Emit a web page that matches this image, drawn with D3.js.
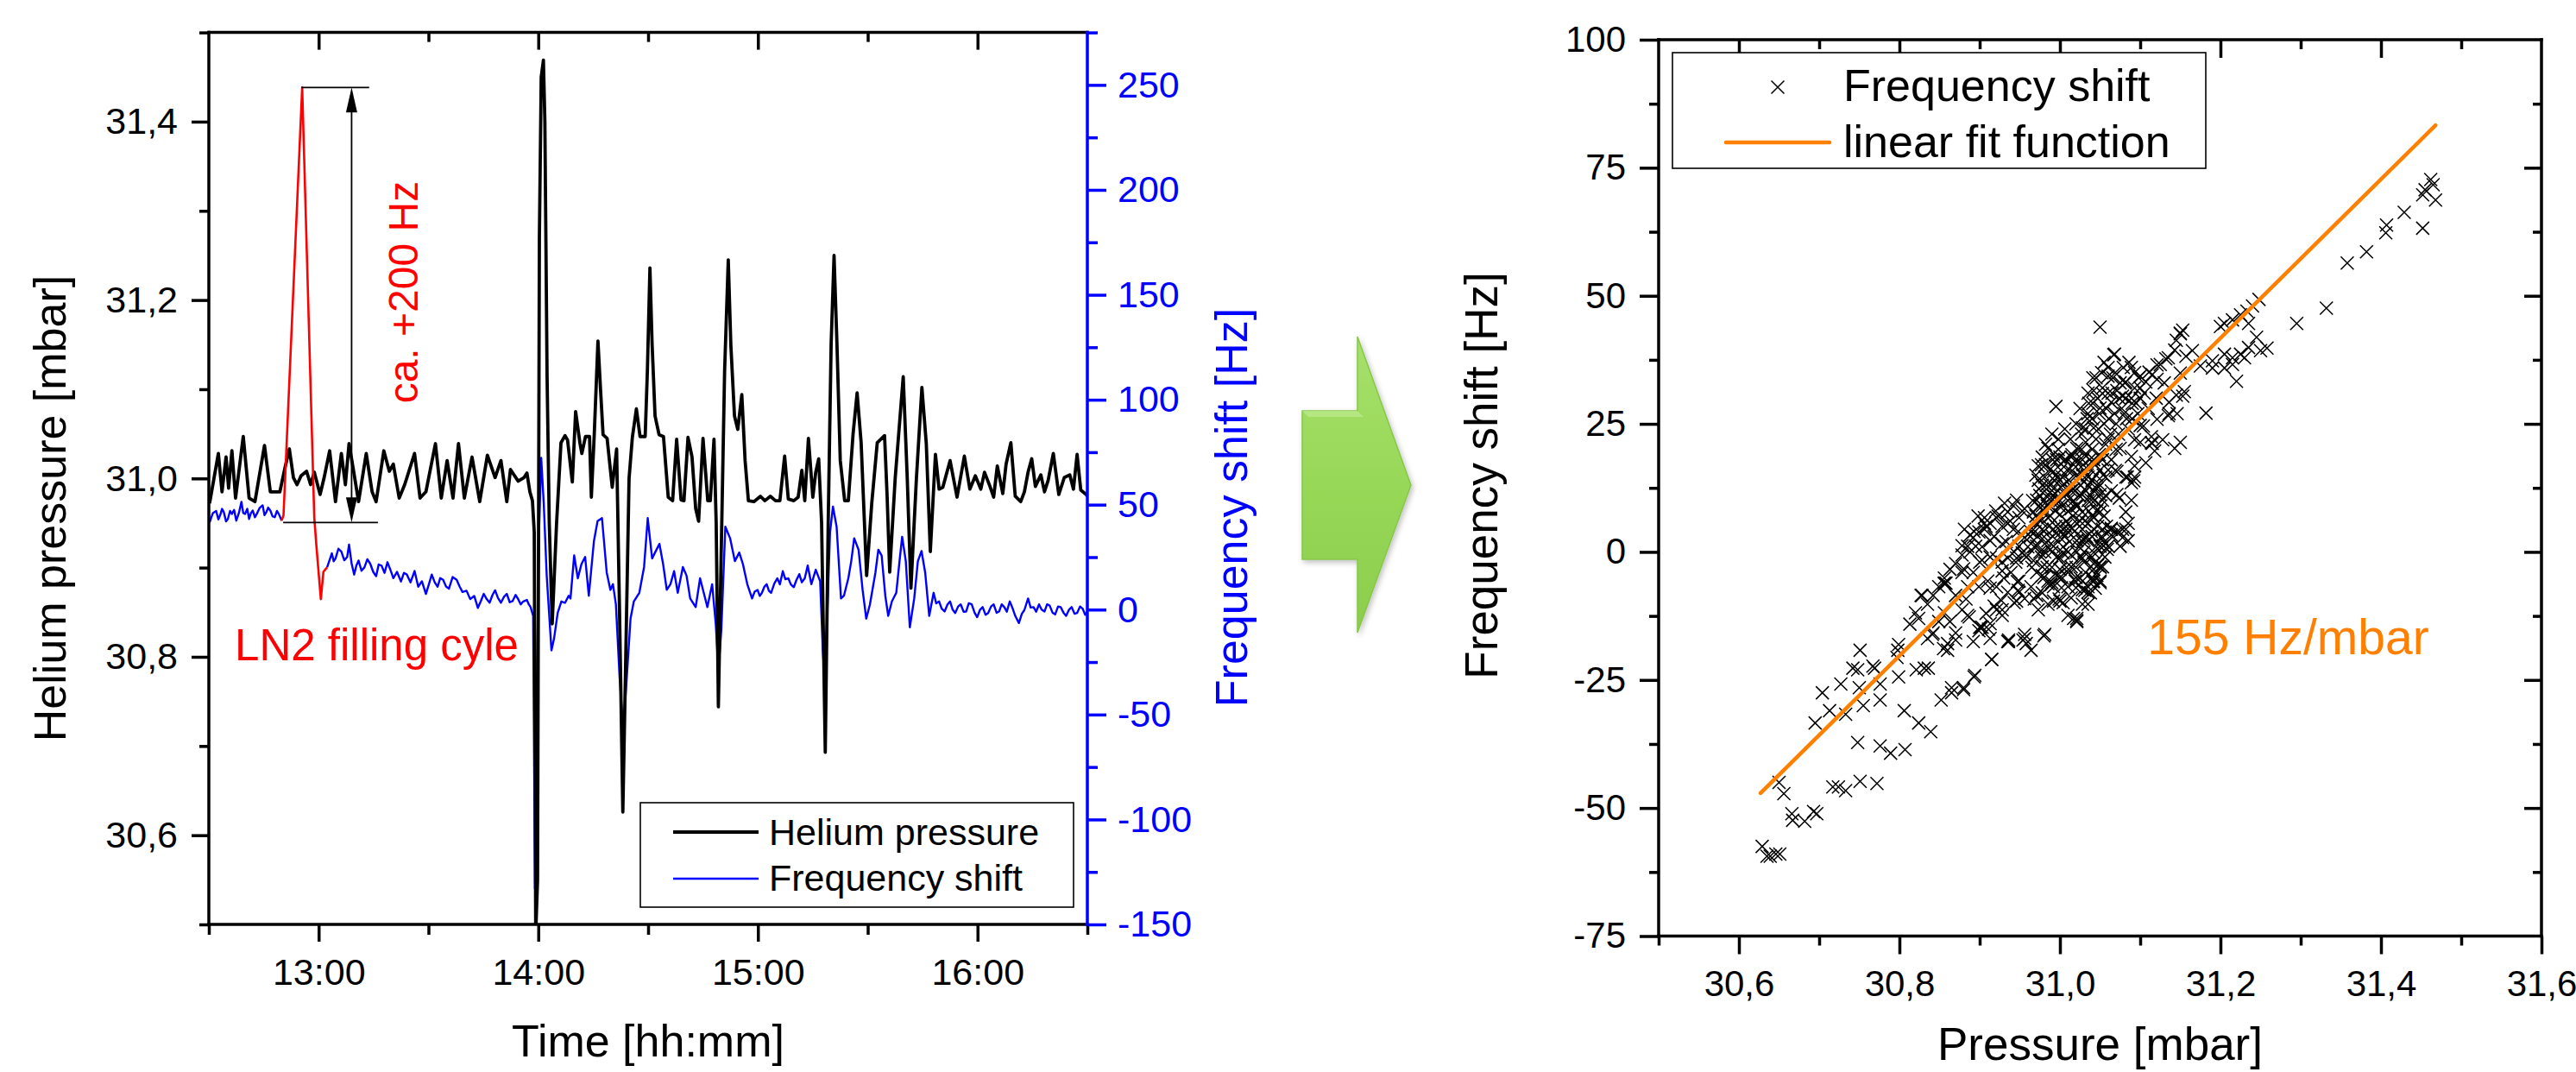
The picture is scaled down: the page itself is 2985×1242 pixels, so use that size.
<!DOCTYPE html>
<html>
<head>
<meta charset="utf-8">
<script src="https://cdn.jsdelivr.net/npm/d3@7"></script>
<style>
  body { margin: 0; background: #fff; }
  text { font-family: "Liberation Sans", Arial, sans-serif; }
</style>
</head>
<body>
<div id="container"></div>
<script>
const width = 2985;
const height = 1242;
const FONT = '"Liberation Sans", Arial, sans-serif';

// ---- data: time in minutes after 12:00 ----
const heliumPressure = [
  [30.2,30.972],[32.6,31.028],[33.6,30.985],[34.7,31.024],[35.4,30.989],[36.3,31.031],[37.3,30.978],[39.4,31.047],
  [41.0,30.978],[42.6,30.974],[45.2,31.037],[46.8,30.985],[49.4,30.985],[50.8,31.012],[52.0,31.033],[53.1,31.001],
  [54.1,30.993],[55.2,31.003],[56.7,31.008],[57.8,30.993],[58.8,31.007],[60.4,30.982],[61.5,31.001],[63.0,31.031],
  [64.6,30.974],[66.2,31.028],[67.3,30.993],[68.3,31.039],[69.4,31.012],[70.9,30.974],[73.0,31.028],[74.6,30.985],
  [75.7,30.974],[77.8,31.031],[79.3,31.008],[80.4,31.016],[82.0,30.978],[83.5,30.993],[86.2,31.028],[87.7,30.978],
  [89.3,30.985],[91.9,31.039],[93.5,30.978],[95.1,31.020],[96.7,30.978],[98.2,31.039],[99.8,30.978],[101.9,31.024],
  [104.0,30.974],[106.1,31.026],[108.2,31.001],[109.8,31.020],[111.4,30.974],[112.4,31.010],[114.5,30.997],[116.1,31.001],
  [116.9,31.006],[117.7,30.985],[118.4,30.975],[118.9,30.94],[119.3,30.49],[119.8,30.55],[120.3,31.27],[120.8,31.45],
  [121.4,31.469],[121.8,31.40],[122.4,31.115],[123.0,30.95],[123.8,30.837],[125.0,30.95],[126.2,31.04],[127.3,31.048],
  [128.0,31.043],[129.3,30.996],[130.2,31.075],[131.4,31.039],[131.9,31.028],[132.9,31.047],[134.0,31.047],[134.5,30.979],
  [135.3,31.05],[136.3,31.154],[137.0,31.10],[137.7,31.049],[138.8,31.045],[140.2,30.99],[141.4,31.033],[142.2,30.85],
  [143.1,30.626],[143.9,30.8],[144.8,31.0],[145.7,31.046],[146.8,31.078],[147.8,31.047],[149.2,31.047],[149.8,31.12],
  [150.5,31.236],[151.1,31.15],[151.9,31.07],[153.0,31.049],[154.2,31.047],[155.5,30.979],[156.7,30.975],[157.8,31.044],
  [159.0,30.976],[159.8,30.975],[160.9,31.046],[162.0,31.024],[163.0,30.966],[163.8,30.952],[165.0,31.045],[166.3,30.975],
  [167.0,30.975],[168.0,31.044],[168.6,30.95],[169.2,30.744],[169.9,30.9],[170.9,31.12],[171.9,31.245],[172.6,31.15],
  [173.6,31.07],[174.5,31.055],[175.6,31.094],[176.5,31.02],[177.4,30.975],[178.9,30.974],[180.7,30.980],[181.9,30.975],
  [183.4,30.980],[184.8,30.975],[186.0,30.975],[187.3,31.025],[188.3,30.977],[189.8,30.975],[191.0,30.979],[192.0,31.009],
  [192.8,30.975],[193.8,31.045],[195.0,30.979],[195.8,31.007],[196.6,31.022],[197.4,30.95],[198.4,30.693],[199.2,30.95],
  [200.0,31.15],[200.8,31.250],[201.6,31.15],[202.5,31.02],[203.7,30.975],[204.7,30.975],[206.0,31.05],[207.1,31.096],
  [208.2,31.04],[209.7,30.891],[211.1,30.972],[212.6,31.040],[214.6,31.048],[215.3,30.98],[216.0,30.895],[217.5,31.0],
  [219.7,31.114],[220.8,31.0],[221.8,30.877],[223.3,31.0],[224.8,31.102],[226.0,31.039],[227.1,30.918],[228.5,31.027],
  [229.5,30.988],[230.5,30.990],[232.5,31.020],[234.4,30.979],[236.4,31.025],[237.9,30.988],[239.4,31.003],[240.9,30.988],
  [241.9,31.007],[243.4,30.991],[244.4,30.979],[245.4,31.014],[246.9,30.983],[247.8,31.016],[249.1,31.040],[250.3,30.980],
  [251.8,30.974],[252.8,30.985],[253.8,31.007],[254.8,31.022],[255.8,30.991],[257.3,31.004],[258.3,30.985],[259.3,30.998],
  [260.7,31.028],[262.2,30.982],[263.7,31.001],[265.2,31.004],[266.2,30.988],[267.2,31.027],[268.2,30.987],[269.7,30.982],
  [270,30.980]
];

const frequencyShift = [
  [30.2,41.5],[31.1,46],[32.0,47],[32.6,43],[33.1,45],[33.6,48],[34.1,46.4],[34.7,42],[35.2,43.2],[35.8,47],[36.3,45.6],
  [36.9,47.5],[37.5,42.4],[38.2,46],[38.9,51.3],[39.4,46],[39.9,45.6],[40.5,48],[41.0,43.2],[41.5,46],[42.0,47.2],
  [42.6,44],[43.1,45.6],[43.9,48.5],[44.7,49.7],[45.2,45],[45.7,46.4],[46.2,48.6],[46.8,47.2],[47.4,44.5],[48.0,44],
  [48.6,47],[49.1,45.6],[49.9,42.4],
  [50.4,45],[55.5,248.8],[58.8,44],[59.4,30],[60.6,5],[61.3,18],[62.3,20.1],
  [63.6,26.8],[64.1,23],[64.6,24.3],[65.4,29],[66.2,27.6],[67.0,23.5],[67.8,25.1],[68.3,31],[69.0,22],[69.7,16.7],
  [70.3,21],[70.9,23.4],[71.7,18.5],[72.5,20.1],[73.3,24],[74.1,21.8],[74.9,18],[75.7,15.9],[76.4,21.5],[77.2,20.9],
  [78.0,17.5],[78.8,22.6],[79.6,19],[80.4,15.0],[81.4,18],[82.5,13.4],[83.3,17.5],[84.1,16.7],[85.1,13],[86.2,18.4],
  [87.2,10.9],[88.2,13.5],[89.3,7.5],[90.1,12],[90.9,16.7],[91.7,13],[92.5,10.9],[93.2,15],[94.0,14.2],[94.8,11],
  [95.6,10.0],[96.6,15.5],[97.7,14.2],[98.5,11],[99.3,8.4],[100.4,9],[101.4,5.0],[102.5,6.5],[103.5,0.8],[104.3,4],
  [105.1,7.5],[105.9,5],[106.7,3.3],[107.5,7],[108.2,9.2],[109.0,5.5],[109.8,3.3],[110.6,6],[111.4,7.5],[112.2,3.5],
  [113.0,4.1],[113.8,7],[114.5,5.0],[115.2,2.5],[115.9,3.9],[116.9,4.6],[117.4,2.5],[117.9,1.2],[118.6,-3.0],[119.1,-133],[119.6,-40],
  [120.2,36.8],[120.8,72.3],[121.5,50.4],[122.3,16.2],[123.6,-19.4],[124.3,-13.9],[125.3,-1.6],[126.3,3.9],[127.3,3.2],
  [128.3,6.6],[128.8,5.3],[129.8,25.8],[130.8,14.9],[131.8,21.7],[132.8,25.1],[133.8,6.6],[135.2,32.6],[136.2,42.2],
  [137.4,43.6],[138.7,17.6],[139.7,9.4],[140.4,12.1],[141.2,2.5],[142.2,-31.7],[143.2,-57],[144.2,-31.7],[145.2,-4.3],
  [146.1,3.9],[147.6,8.0],[148.9,20.3],[149.9,43.6],[151.1,24.4],[151.9,27.2],[153.1,31.3],[154.1,21.7],[155.1,9.4],
  [156.1,12.1],[157.1,18.3],[158.1,8.0],[159.5,20.3],[160.5,16.2],[161.5,5.3],[163.0,1.2],[164.2,14.9],[165.2,8.0],
  [166.2,1.2],[167.5,12.1],[168.5,-7.1],[169.2,-29.0],[170.0,-9.8],[171.1,39.5],[172.4,34.0],[173.7,23.1],[174.9,27.2],
  [175.9,21.7],[177.1,12.1],[178.4,5.3],[179.1,8.5],[179.9,9.4],[180.5,6.5],[181.1,8.0],[181.8,11],[182.4,12.1],[183.0,9],
  [183.6,8.0],[184.5,12.5],[185.3,14.9],[186.0,12],[186.8,18.3],[187.5,14.5],[188.3,14.9],[189.0,12],[189.8,10.7],
  [190.5,14],[191.3,16.9],[192.0,13],[192.8,14.9],[193.6,21.0],[194.6,12.1],[195.8,19.0],[197.0,13.5],[197.7,-18.0],
  [198.2,-33.1],[198.9,-4.3],[199.7,36.8],[200.5,49.1],[201.5,39.5],[202.7,5.3],[203.5,6.6],[204.7,14.9],[205.5,23.1],
  [206.3,34.0],[207.5,28.5],[208.6,9.4],[209.6,-4.3],[210.6,2.5],[212.1,17.6],[212.9,28.5],[213.8,25.8],[214.8,6.6],
  [215.6,-3.0],[216.6,3.9],[217.8,8.0],[218.6,21.7],[219.4,34.7],[220.4,23.1],[221.5,-8.4],[222.7,5.3],[223.7,23.1],
  [224.7,27.9],[225.7,17.6],[226.8,-3.0],[228.0,8.0],[228.7,3],[229.5,3.9],[230.2,0.5],[231.0,-0.9],[231.8,2.5],
  [232.5,3.9],[233.2,0],[233.9,-1.6],[234.7,1.5],[235.4,2.5],[236.2,-1],[236.9,-0.9],[237.6,3],[238.4,2.5],[239.2,-1.5],
  [239.9,-3.6],[240.7,0],[241.4,1.2],[242.2,-2.5],[242.9,-1.6],[243.7,1.5],[244.4,2.5],[245.2,-1.5],[245.9,-0.9],
  [246.6,2.5],[247.3,1.2],[248.0,-1],[248.8,3.9],[249.6,0.5],[250.3,-3.0],[251.3,-6.4],[252.1,-2],[252.8,-0.2],
  [253.8,5.3],[254.5,1],[255.3,1.2],[256.0,-1],[256.8,2.5],[257.5,0],[258.3,-0.9],[259.0,2.5],[259.7,1.9],[260.5,-1.5],
  [261.2,-2.3],[262.0,1.5],[262.7,1.2],[263.5,-1.5],[264.2,-3.0],[265.0,0],[265.7,1.2],[266.5,-2],[267.2,-1.6],
  [268.0,1.5],[268.7,0.5],[269.4,-2.5],[270,-0.9]
];

// part of the frequency trace drawn in red (LN2 filling)
const ln2Window = [49.9, 62.3];

// scatter: [pressure mbar, frequency shift Hz]
const scatterPoints = [
  [30.629,-57.5],[30.635,-59.4],[30.639,-59.4],[30.646,-59.0],[30.651,-59.0],[30.650,-45.0],[30.656,-47.2],[30.666,-51.1],
  [30.667,-52.4],[30.682,-52.6],[30.693,-50.7],[30.697,-51.1],[30.695,-33.4],[30.704,-27.5],[30.713,-31.0],[30.717,-45.9],
  [30.724,-45.9],[30.727,-25.8],[30.733,-46.6],[30.733,-31.7],[30.742,-22.7],[30.748,-23.0],[30.748,-37.2],[30.751,-44.8],
  [30.751,-19.2],[30.750,-26.5],[30.755,-30.0],[30.767,-22.3],[30.769,-22.7],[30.772,-45.2],[30.776,-25.8],[30.776,-28.9],
  [30.776,-37.9],[30.789,-39.3],[30.798,-19.2],[30.799,-24.4],[30.797,-20.6],[30.806,-31.0],[30.807,-38.6],[30.821,-23.0],
  [30.824,-33.4],[30.828,-8.5],[30.831,-22.7],[30.839,-35.1],[30.836,-22.7],[30.841,-16.1],[30.852,-28.9],[30.856,-6.1],
  [30.860,-17.9],[30.865,-27.5],[30.870,-17.2],[30.880,-26.5],[30.880,-3.3],[30.887,-12.7],[30.894,-24.1],[30.901,-14.7],
  [30.899,-15.4],[30.908,-12.0],[30.915,-21.0],[30.911,-15.1],[30.918,-10.6],[30.927,-9.5],[30.936,-17.2],[30.930,-5.1],
  [30.947,-5.8],[30.954,-17.2],
  [30.858,-6.1],[30.855,-18.9],[30.865,-26.5],[30.880,-26.9],[30.893,-24.4],[30.915,-21.0],[30.936,-17.5],[30.956,-16.1],
  [30.981,-16.1],[30.958,-17.9],[31.021,-13.4],[31.004,-9.9],[31.031,-7.5],[31.041,-5.8],[31.047,-2.6],[30.989,-6.4],
  [30.968,-9.2],[30.948,-7.5],[30.928,-11.3],[30.913,-14.0],[30.900,-14.7],[31.074,3.9],[31.059,0.5],[31.052,2.6],
  [30.878,1.2],[30.903,-1.6],[30.928,-3.7],[30.953,-0.2],[30.978,2.6],[31.004,-0.2],[31.029,2.6],[31.054,1.2],[31.064,4.6],
  [30.883,-9.2],[30.913,-7.1],[30.943,-9.9],[30.973,-11.3],[30.999,-9.2],[31.019,-5.7],[31.044,-7.1],
  [31.462,72.7],[31.465,71.7],[31.455,70.7],[31.452,69.7],[31.468,68.7],[31.429,66.3],[31.452,63.2],[31.407,63.8],
  [31.406,62.3],[31.382,58.6],[31.358,56.4],[31.332,47.6],[31.295,44.6],[31.258,39.8],[31.050,43.9],[31.068,38.6],
  [30.995,28.4],[31.220,33.3],[31.182,27.1],[31.248,49.3],[31.240,48.0],[31.233,47.0],[31.225,46.3],[31.215,45.3],
  [31.205,44.6],[31.200,44.0],[31.235,44.6],[31.245,41.9],[31.235,39.9],[31.225,38.6],[31.215,37.9],[31.205,38.6],
  [31.190,37.3],[31.175,36.3],[31.165,39.3],[31.150,42.6],[31.145,41.3],[31.135,37.9],[31.125,36.6],[31.115,34.6],
  [31.155,31.3],[31.145,30.6],[31.135,26.6],[31.115,21.2],[31.104,24.6],[31.089,18.6],[31.084,14.6],[31.092,13.9],
  [31.069,15.9],[31.064,11.9],[31.074,10.5],[31.190,35.9],[31.205,35.9],[31.215,36.6],[31.230,37.9],[31.250,39.3],
  [31.067,38.5],[31.150,42.7],[31.143,39.4],[31.132,37.7],[31.121,36.5],[31.111,35.1],[31.100,34.3],[31.089,36.0],
  [31.082,33.2],[31.071,31.5],[31.060,34.3],[31.053,30.9],[31.042,31.5],[31.050,28.1],[31.064,29.2],[31.078,30.4],
  [31.093,32.0],[31.107,33.2],[31.121,33.7],[31.136,29.2],[31.146,27.0],[31.114,21.3],[31.121,25.9],[31.100,24.7],
  [31.093,21.9],[31.075,20.2],[31.064,18.0],[31.057,14.6],[31.050,11.2],[31.035,27.0],[31.028,24.2],[31.032,21.4],
  [31.042,24.2],[31.042,18.0],[31.035,14.6],[31.028,18.0],[31.021,20.2],[31.014,18.5],[31.007,18.0],[31.000,18.5],
  [30.992,19.1],[30.985,20.2],[30.978,18.5],[30.973,16.8],[30.981,14.6],[30.992,15.7],[31.003,14.6],[31.014,15.7],
  [31.025,14.6],[31.035,12.9],[31.046,12.3],[31.053,10.1],[31.050,7.8],[31.053,4.4],[31.050,1.1],[31.042,-0.1],
  [31.035,2.2],[31.028,4.4],[31.021,5.6],[31.010,3.9],[31.000,2.8],[30.992,1.1],[30.985,2.2],[30.978,4.4],[30.971,5.6],
  [30.967,7.8],[30.971,10.1],[30.974,12.3],[30.985,11.2],[30.996,10.1],[31.007,11.2],[31.017,12.3],[31.028,11.2],
  [31.039,10.1],[31.042,6.7],[31.028,7.8],[31.014,8.4],[31.000,7.3],[30.985,6.7],[30.978,9.0],[30.992,4.4],[31.007,5.0],
  [31.021,2.2],[31.035,5.6],[31.000,-1.2],[31.014,-0.6],[31.028,-1.2],[31.042,-2.3],[31.060,1.1],[31.064,4.4],[31.071,3.9],
  [31.078,4.4],[31.057,1.6],[31.050,-2.9],[31.042,-5.7],[31.035,-7.9],[31.028,-5.7],[31.010,-6.8],[30.996,-4.6],
  [30.992,-9.6],[30.985,-6.2],[30.978,-2.9],[30.971,1.1],[30.964,3.9],[30.956,2.8],[30.949,1.1],[30.942,4.4],[30.935,5.6],
  [30.928,5.0],[30.921,6.7],[30.913,5.6],[30.906,4.4],[30.899,3.9],[30.892,2.8],[30.885,1.1],[30.878,-0.6],[30.870,-2.3],
  [30.863,-3.4],[30.856,-5.1],[30.849,-6.8],[30.842,-8.5],[30.835,-10.2],[30.827,-8.5],[30.820,-11.9],[30.856,-6.2],
  [30.878,-4.0],[30.895,1.1],[30.906,5.6],[30.913,2.2],[30.928,1.6],[30.935,-1.2],[30.946,-1.2],[30.956,-0.6],[30.967,-1.7],
  [30.978,-4.6],[30.985,-5.7],[31.000,-3.4],[31.014,-2.9],[31.025,-5.1],[31.003,-5.1],[30.992,-6.8],[30.964,-6.8],
  [30.949,-5.7],[30.935,-7.9],[30.921,-6.8],[30.910,-5.7],[30.899,-6.8],[30.892,-4.0],[30.885,-6.8],[30.870,-8.5],
  [30.921,-1.2],[30.939,-4.0],[30.949,-7.9],[30.956,-9.1],[30.971,-8.5],[30.985,-10.2],[31.000,-9.6],[31.010,-12.4],
  [31.021,-13.0],[31.035,-6.8],[31.042,-3.4],[31.064,3.3],[31.082,4.4],[31.085,5.6],[31.071,11.2],[31.082,14.6],
  [31.089,13.5],[31.093,16.8],[31.071,15.7],[31.100,21.4],[31.114,22.5],[31.136,27.0],[31.153,30.4],[31.150,34.9],
  [31.157,38.2],[31.153,43.3],[30.885,-12.4],[30.799,-18.1],[30.835,-16.9],[30.842,-15.8],[30.860,-19.2],[30.870,-15.8],
  [30.892,-17.5],[30.903,-14.7],[30.913,-16.9],[30.935,-17.5],[30.956,-16.9],[30.964,-19.2],[30.980,-16.4],[30.921,-11.3],
  [30.928,-12.4],[30.946,-9.6],[30.856,-11.9],[30.863,-13.6],[30.878,-11.3],[30.849,-13.6],[30.824,-13.0],[30.813,-14.1],
  [31.028,-7.4],[31.046,-4.6],[31.053,-2.9],[31.028,-10.2],[31.035,-10.2],[31.021,-13.6],[31.017,-13.0],[31.050,-5.7],
  [31.078,2.8],[30.935,7.8],[30.942,9.0],[30.949,6.7],[30.946,10.1],[30.906,6.7],[30.888,3.3],[30.881,4.4],[30.931,9.5],
  [30.956,8.4],[31.128,21.9],[31.143,20.2],[31.150,21.4],[31.118,19.7],[31.107,17.4],[31.093,14.6],[31.089,10.1],
  [31.082,7.8],[31.075,1.1],[31.085,2.2],
  [30.98,10],[30.99,12],[31.0,14],[31.01,10],[31.02,9],[31.03,16],[31.04,20],[31.045,15],[30.99,0],[31.0,5],[31.01,0],
  [31.02,-3],[31.03,0],[31.04,3],[30.975,0],[30.965,-3],[30.96,1],[31.055,25],[31.06,22],[31.07,25],[31.08,27],[31.09,29],
  [31.1,30],[31.11,28],[31.12,30],[31.13,33],[31.06,36],[31.045,34],[31.035,31],[31.025,28],
  // dense core
  [30.968,1],[30.972,3],[30.976,6],[30.979,8],[30.983,13],[30.987,16],[30.991,3],[30.994,8],[30.997,12],[31.001,16],
  [31.004,1],[31.008,6],[31.011,14],[31.015,19],[31.018,4],[31.022,9],[31.026,13],[31.029,17],[31.033,3],[31.036,8],
  [31.040,14],[31.044,17],[31.047,5],[31.051,9],[31.054,15],[30.970,15],[30.981,0],[30.989,10],[30.996,18],[31.003,9],
  [31.012,2],[31.019,12],[31.027,20],[31.031,6],[31.038,11],[31.045,1],[31.049,19],[30.975,11],[30.986,5],[30.993,14],
  [31.006,18],[31.016,7],[31.024,1],[31.034,15],[31.043,10],[31.052,3],
  [30.969,4],[30.974,9],[30.978,13],[30.982,17],[30.985,1],[30.988,7],[30.992,11],[30.995,15],[30.998,20],[31.002,4],
  [31.005,12],[31.009,16],[31.013,5],[31.017,10],[31.021,15],[31.025,6],[31.028,2],[31.032,12],[31.037,18],[31.041,7],
  [31.046,13],[31.050,16],[31.055,7],[30.977,-1],[31.0,10],[31.02,18],[31.04,-1],
  [31.032,24],[31.036,29],[31.041,34],[31.045,22],[31.049,27],[31.053,32],[31.057,21],[31.061,26],[31.065,31],[31.069,35],
  [31.073,23],[31.077,28],[31.081,33],[31.085,24],[31.089,30],[31.093,35],[31.097,27],[31.100,32],[31.055,37],[31.070,20],
  [31.086,37],[31.040,26],[31.063,23],[31.079,36],[31.095,29],[31.047,30],[31.058,28],[31.066,34],[31.074,30],[31.083,26],
  [30.888,0],[30.893,4],[30.898,7],[30.903,1],[30.908,5],[30.913,-1],[30.918,3],[30.923,7],[30.928,-2],[30.933,2],
  [30.938,6],[30.943,0],[30.948,4],[30.953,8],[30.958,-1],[30.963,3],[30.968,6],[30.900,-2],[30.920,8],[30.945,-2],
  [30.978,-8],[30.984,-3],[30.990,-6],[30.996,-1],[31.002,-7],[31.008,-3],[31.014,-9],[31.020,-5],[31.026,-1],[31.032,-4],
  [31.038,-8],[31.044,-2],[31.050,-6],[31.056,-1],
  [30.966,10],[30.970,7],[30.973,14],[30.977,17],[30.980,4],[30.984,9],[30.988,13],[30.991,18],[30.995,5],[30.999,9],
  [31.003,13],[31.006,3],[31.010,8],[31.014,12],[31.017,17],[31.021,0],[31.024,11],[31.028,15],[31.031,19],[31.035,10],
  [31.039,4],[31.042,12],[31.046,8],[31.050,13],[31.053,18],[31.057,11],[31.060,16],[31.058,5],
  [30.982,21],[30.990,23],[30.998,22],[31.006,24],[31.013,22],[31.020,25],[31.027,23],[31.034,26],[31.041,29],[31.048,24],
  [31.052,35],[31.060,31],[31.068,27],[31.075,33],[31.082,30],[31.090,26],[31.098,34],[31.105,31],
  [30.971,-4],[30.980,-5],[30.990,-3],[31.000,-5],[31.010,-4],[31.020,-7],[31.030,-2],[31.040,-5],[31.050,-3]
];

// linear fit (155 Hz/mbar), end points
const fitLine = [[30.627, -47.1], [31.468, 83.3]];

// ticks
const timeMajor = [60, 120, 180, 240];
const timeMinor = [30, 90, 150, 210, 270];
const pressMajor = [30.6, 30.8, 31.0, 31.2, 31.4];
const pressMinor = [30.5, 30.7, 30.9, 31.1, 31.3, 31.5];
const freqMajor = [-150, -100, -50, 0, 50, 100, 150, 200, 250];
const freqMinor = [-125, -75, -25, 25, 75, 125, 175, 225, 275];
const scatXMajor = [30.6, 30.8, 31.0, 31.2, 31.4, 31.6];
const scatXMinor = [30.5, 30.7, 30.9, 31.1, 31.3, 31.5];
const scatYMajor = [-75, -50, -25, 0, 25, 50, 75, 100];
const scatYMinor = [-62.5, -37.5, -12.5, 12.5, 37.5, 62.5, 87.5];

const comma = d3.formatLocale({ decimal: ',', thousands: '.', grouping: [3], currency: ['', ''], minus: '-' }).format('.1f');
const hhmm = m => (12 + Math.floor(m / 60)) + ':' + String(m % 60).padStart(2, '0');

const svg = d3.select('#container').append('svg')
  .attr('width', width).attr('height', height)
  .style('background', '#fff');

const defs = svg.append('defs');

function axisStyle(g, fs, color, sw) {
  g.select('.domain').remove();
  g.attr('font-size', fs).attr('font-family', FONT).attr('color', color);
  g.selectAll('.tick line').attr('stroke-width', sw);
}

// ================= LEFT CHART =================
const L = { x0: 242, x1: 1260, y0: 37.6, y1: 1071 };
const xT = d3.scaleLinear().domain([30, 270]).range([L.x0, L.x1]);
const yP = d3.scaleLinear().domain([30.5, 31.5]).range([L.y1, L.y0]);
const yF = d3.scaleLinear().domain([-150, 275]).range([L.y1, L.y0]);

defs.append('clipPath').attr('id', 'clipL').append('rect')
  .attr('x', L.x0).attr('y', L.y0).attr('width', L.x1 - L.x0).attr('height', L.y1 - L.y0);

const left = svg.append('g');

// bottom axis
left.append('g').attr('transform', `translate(0,${L.y1})`)
  .call(d3.axisBottom(xT).tickValues(timeMajor).tickSize(20).tickPadding(19).tickFormat(hhmm))
  .call(g => axisStyle(g, 43, '#000', 3.5));
left.append('g').attr('transform', `translate(0,${L.y1})`)
  .call(d3.axisBottom(xT).tickValues(timeMinor).tickSize(12).tickFormat(''))
  .call(g => axisStyle(g, 43, '#000', 3.5));
// top axis, ticks inward
left.append('g').attr('transform', `translate(0,${L.y0})`)
  .call(d3.axisBottom(xT).tickValues(timeMajor).tickSize(20).tickFormat(''))
  .call(g => axisStyle(g, 43, '#000', 3.5));
left.append('g').attr('transform', `translate(0,${L.y0})`)
  .call(d3.axisBottom(xT).tickValues(timeMinor.slice(1, -1)).tickSize(11).tickFormat(''))
  .call(g => axisStyle(g, 43, '#000', 3.5));
// left axis
left.append('g').attr('transform', `translate(${L.x0},0)`)
  .call(d3.axisLeft(yP).tickValues(pressMajor).tickSize(20).tickPadding(16).tickFormat(comma))
  .call(g => axisStyle(g, 43, '#000', 3.5));
left.append('g').attr('transform', `translate(${L.x0},0)`)
  .call(d3.axisLeft(yP).tickValues(pressMinor).tickSize(11).tickFormat(''))
  .call(g => axisStyle(g, 43, '#000', 3.5));
// right axis (blue)
left.append('g').attr('transform', `translate(${L.x1},0)`)
  .call(d3.axisRight(yF).tickValues(freqMajor).tickSize(22).tickPadding(13).tickFormat(d => String(d)))
  .call(g => axisStyle(g, 43, '#0000ff', 3.5));
left.append('g').attr('transform', `translate(${L.x1},0)`)
  .call(d3.axisRight(yF).tickValues(freqMinor).tickSize(12).tickFormat(''))
  .call(g => axisStyle(g, 43, '#0000ff', 3.5));

// data lines
const lineF = d3.line().x(d => xT(d[0])).y(d => yF(d[1]));
const lineP = d3.line().x(d => xT(d[0])).y(d => yP(d[1]));
const plotL = left.append('g').attr('clip-path', 'url(#clipL)');

plotL.append('path')
  .datum(frequencyShift)
  .attr('d', lineF.defined(d => d[0] <= ln2Window[0] || d[0] >= ln2Window[1]))
  .attr('fill', 'none').attr('stroke', '#0000ff').attr('stroke-width', 2.4).attr('stroke-linejoin', 'round');

plotL.append('path')
  .datum(heliumPressure)
  .attr('d', lineP)
  .attr('fill', 'none').attr('stroke', '#000').attr('stroke-width', 3.8).attr('stroke-linejoin', 'round');

plotL.append('path')
  .datum(frequencyShift.filter(d => d[0] >= ln2Window[0] && d[0] <= ln2Window[1]))
  .attr('d', d3.line().x(d => xT(d[0])).y(d => yF(d[1])))
  .attr('fill', 'none').attr('stroke', '#ff0000').attr('stroke-width', 2.6).attr('stroke-linejoin', 'round');

// frame
left.append('line').attr('x1', L.x0).attr('x2', L.x1).attr('y1', L.y0).attr('y2', L.y0).attr('stroke', '#000').attr('stroke-width', 3.5).attr('stroke-linecap', 'square');
left.append('line').attr('x1', L.x0).attr('x2', L.x1).attr('y1', L.y1).attr('y2', L.y1).attr('stroke', '#000').attr('stroke-width', 3.5).attr('stroke-linecap', 'square');
left.append('line').attr('x1', L.x0).attr('x2', L.x0).attr('y1', L.y0).attr('y2', L.y1).attr('stroke', '#000').attr('stroke-width', 3.5).attr('stroke-linecap', 'square');
left.append('line').attr('x1', L.x1).attr('x2', L.x1).attr('y1', L.y0).attr('y2', L.y1).attr('stroke', '#0000ff').attr('stroke-width', 3.5).attr('stroke-linecap', 'square');

// +200 Hz annotation
const arrowT = 69, arrowTop = 248.8, arrowBottom = 41.5;
const ann = left.append('g').attr('stroke', '#000').attr('stroke-width', 1.8);
ann.append('line').attr('x1', xT(55.3)).attr('x2', xT(73.8)).attr('y1', yF(arrowTop)).attr('y2', yF(arrowTop));
ann.append('line').attr('x1', xT(50.3)).attr('x2', xT(76.2)).attr('y1', yF(arrowBottom)).attr('y2', yF(arrowBottom));
ann.append('line').attr('x1', xT(arrowT)).attr('x2', xT(arrowT)).attr('y1', yF(arrowTop) + 20).attr('y2', yF(arrowBottom) - 20);
const ax = xT(arrowT), ayT = yF(arrowTop), ayB = yF(arrowBottom);
left.append('path').attr('d', `M${ax},${ayT}L${ax - 6.5},${ayT + 29}L${ax + 6.5},${ayT + 29}Z`).attr('fill', '#000');
left.append('path').attr('d', `M${ax},${ayB}L${ax - 6.5},${ayB - 29}L${ax + 6.5},${ayB - 29}Z`).attr('fill', '#000');

left.append('text')
  .attr('transform', `translate(${xT(87.05)},${yF(151.2)}) rotate(-90)`)
  .attr('text-anchor', 'middle').attr('font-size', 48).attr('fill', '#ff0000')
  .text('ca. +200 Hz');
left.append('text')
  .attr('x', xT(37.1)).attr('y', yP(30.796))
  .attr('font-size', 51).attr('fill', '#ff0000')
  .text('LN2 filling cyle');

// legend
const lg = left.append('g');
lg.append('rect').attr('x', 742).attr('y', 930).attr('width', 502).attr('height', 121)
  .attr('fill', '#fff').attr('stroke', '#000').attr('stroke-width', 1.6);
lg.append('line').attr('x1', 780).attr('x2', 879).attr('y1', 964).attr('y2', 964).attr('stroke', '#000').attr('stroke-width', 3.8);
lg.append('line').attr('x1', 780).attr('x2', 879).attr('y1', 1018).attr('y2', 1018).attr('stroke', '#0000ff').attr('stroke-width', 2.4);
lg.append('text').attr('x', 891).attr('y', 979).attr('font-size', 43).text('Helium pressure');
lg.append('text').attr('x', 891).attr('y', 1032).attr('font-size', 43).text('Frequency shift');

// titles
left.append('text').attr('x', (L.x0 + L.x1) / 2).attr('y', 1224)
  .attr('text-anchor', 'middle').attr('font-size', 52).text('Time [hh:mm]');
left.append('text').attr('transform', 'translate(76,589) rotate(-90)')
  .attr('text-anchor', 'middle').attr('font-size', 52).text('Helium pressure [mbar]');
left.append('text').attr('transform', 'translate(1445,588) rotate(-90)')
  .attr('text-anchor', 'middle').attr('font-size', 52).attr('fill', '#0000ff').text('Frequency shift [Hz]');

// ================= GREEN ARROW =================
const grad = defs.append('linearGradient').attr('id', 'greenGrad').attr('x1', 0).attr('x2', 0).attr('y1', 0).attr('y2', 1);
grad.append('stop').attr('offset', '0%').attr('stop-color', '#a6e06c');
grad.append('stop').attr('offset', '50%').attr('stop-color', '#98d858');
grad.append('stop').attr('offset', '100%').attr('stop-color', '#8ccd4d');
const shadow = defs.append('filter').attr('id', 'shadow').attr('x', '-20%').attr('y', '-20%').attr('width', '140%').attr('height', '140%');
shadow.append('feDropShadow').attr('dx', 2).attr('dy', 3).attr('stdDeviation', 3).attr('flood-color', '#000').attr('flood-opacity', 0.25);
svg.append('path')
  .attr('d', 'M1509,476L1573,476L1573,390L1635,562L1573,733L1573,648L1509,648Z')
  .attr('fill', 'url(#greenGrad)').attr('stroke', '#86c64a').attr('stroke-width', 1.5)
  .attr('filter', 'url(#shadow)');
svg.append('path')
  .attr('d', 'M1509,476L1573,476L1580,483L1516,483Z')
  .attr('fill', '#b9e98a').attr('opacity', 0.8);

// ================= RIGHT CHART =================
const R = { x0: 1922, x1: 2945, y0: 46, y1: 1084.5 };
const xR = d3.scaleLinear().domain([30.5, 31.6]).range([R.x0, R.x1]);
const yR = d3.scaleLinear().domain([-75, 100]).range([R.y1, R.y0]);

defs.append('clipPath').attr('id', 'clipR').append('rect')
  .attr('x', R.x0).attr('y', R.y0).attr('width', R.x1 - R.x0).attr('height', R.y1 - R.y0);

const right = svg.append('g');

right.append('g').attr('transform', `translate(0,${R.y1})`)
  .call(d3.axisBottom(xR).tickValues(scatXMajor).tickSize(21).tickPadding(19).tickFormat(comma))
  .call(g => axisStyle(g, 42, '#000', 3.5));
right.append('g').attr('transform', `translate(0,${R.y1})`)
  .call(d3.axisBottom(xR).tickValues(scatXMinor).tickSize(11).tickFormat(''))
  .call(g => axisStyle(g, 42, '#000', 3.5));
right.append('g').attr('transform', `translate(0,${R.y0})`)
  .call(d3.axisBottom(xR).tickValues(scatXMajor.slice(0, -1)).tickSize(21).tickFormat(''))
  .call(g => axisStyle(g, 42, '#000', 3.5));
right.append('g').attr('transform', `translate(0,${R.y0})`)
  .call(d3.axisBottom(xR).tickValues(scatXMinor.slice(1)).tickSize(11).tickFormat(''))
  .call(g => axisStyle(g, 42, '#000', 3.5));
right.append('g').attr('transform', `translate(${R.x0},0)`)
  .call(d3.axisLeft(yR).tickValues(scatYMajor).tickSize(22).tickPadding(16).tickFormat(d => String(d)))
  .call(g => axisStyle(g, 42, '#000', 3.5));
right.append('g').attr('transform', `translate(${R.x0},0)`)
  .call(d3.axisLeft(yR).tickValues(scatYMinor).tickSize(11).tickFormat(''))
  .call(g => axisStyle(g, 42, '#000', 3.5));
right.append('g').attr('transform', `translate(${R.x1},0)`)
  .call(d3.axisLeft(yR).tickValues(scatYMajor.slice(1, -1)).tickSize(20).tickFormat(''))
  .call(g => axisStyle(g, 42, '#000', 3.5));
right.append('g').attr('transform', `translate(${R.x1},0)`)
  .call(d3.axisLeft(yR).tickValues(scatYMinor).tickSize(10).tickFormat(''))
  .call(g => axisStyle(g, 42, '#000', 3.5));

const plotR = right.append('g').attr('clip-path', 'url(#clipR)');
const S = 7.5;
plotR.append('g')
  .selectAll('path')
  .data(scatterPoints)
  .join('path')
  .attr('d', d => {
    const x = xR(d[0]), y = yR(d[1]);
    return `M${x - S},${y - S}L${x + S},${y + S}M${x - S},${y + S}L${x + S},${y - S}`;
  })
  .attr('fill', 'none').attr('stroke', '#000').attr('stroke-width', 1.5);

plotR.append('path')
  .datum(fitLine)
  .attr('d', d3.line().x(d => xR(d[0])).y(d => yR(d[1])))
  .attr('fill', 'none').attr('stroke', '#ff8000').attr('stroke-width', 4.5).attr('stroke-linecap', 'round');

// frame
[[R.x0, R.y0, R.x1, R.y0], [R.x0, R.y1, R.x1, R.y1], [R.x0, R.y0, R.x0, R.y1], [R.x1, R.y0, R.x1, R.y1]].forEach(l => {
  right.append('line').attr('x1', l[0]).attr('y1', l[1]).attr('x2', l[2]).attr('y2', l[3])
    .attr('stroke', '#000').attr('stroke-width', 3.5).attr('stroke-linecap', 'square');
});

right.append('text').attr('x', xR(31.109)).attr('y', yR(-19.9))
  .attr('font-size', 57).attr('fill', '#ff8000').text('155 Hz/mbar');

// legend
const lgR = right.append('g');
lgR.append('rect').attr('x', 1938).attr('y', 61).attr('width', 618).attr('height', 134)
  .attr('fill', '#fff').attr('stroke', '#000').attr('stroke-width', 1.6);
lgR.append('path').attr('d', `M${2060 - S},${101 - S}L${2060 + S},${101 + S}M${2060 - S},${101 + S}L${2060 + S},${101 - S}`)
  .attr('stroke', '#000').attr('stroke-width', 1.5).attr('fill', 'none');
lgR.append('line').attr('x1', 2000).attr('x2', 2120).attr('y1', 165).attr('y2', 165)
  .attr('stroke', '#ff8000').attr('stroke-width', 4.5).attr('stroke-linecap', 'round');
lgR.append('text').attr('x', 2136).attr('y', 117).attr('font-size', 52).text('Frequency shift');
lgR.append('text').attr('x', 2136).attr('y', 182).attr('font-size', 52).text('linear fit function');

// titles
right.append('text').attr('x', (R.x0 + R.x1) / 2).attr('y', 1228)
  .attr('text-anchor', 'middle').attr('font-size', 53).text('Pressure [mbar]');
right.append('text').attr('transform', 'translate(1735,551) rotate(-90)')
  .attr('text-anchor', 'middle').attr('font-size', 53).text('Frequency shift [Hz]');
</script>
</body>
</html>
